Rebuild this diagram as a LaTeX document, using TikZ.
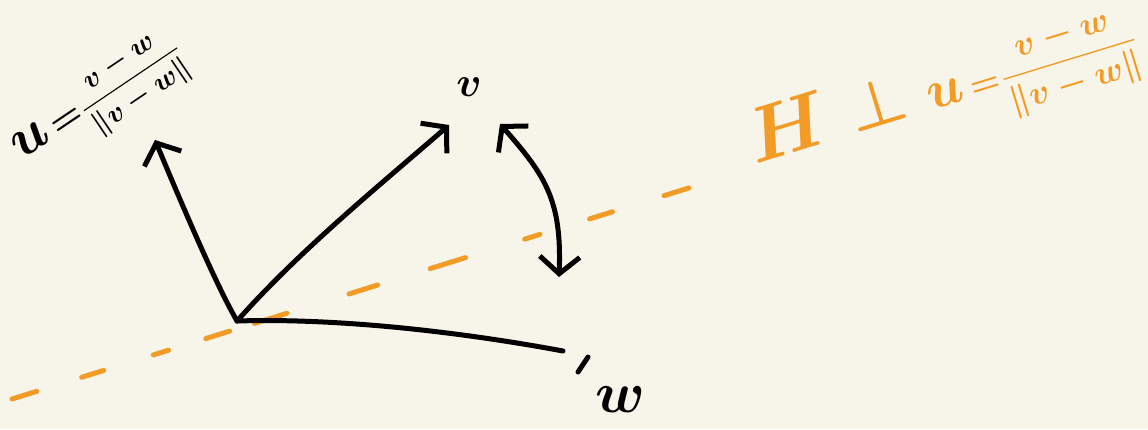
\documentclass[tikz,border=0pt]{standalone}
\usepackage{amsmath, amssymb}
\usepackage{xcolor}
\usepackage{graphicx}
\usepackage{tikz}
\usetikzlibrary{arrows.meta}

\definecolor{paper}{HTML}{F7F5EA}
\definecolor{marker}{HTML}{F29B26}

\begin{document}
\begin{tikzpicture}[x=1pt,y=-1pt,
    pen/.style={line width=5pt, line cap=round, line join=round},
    barb/.tip={Straight Barb[length=17pt,width=40pt,line width=5pt]},
    handtext/.style={font=\boldmath, transform shape}]
        % Paper
        \fill[paper] (0,0) rectangle (1148,429);
        \useasboundingbox (0,0) rectangle (1148,429);

        % Points
        \coordinate (O) at (237,321);
        \coordinate (utip) at (155,140);
        \coordinate (vtip) at (449,125);
        \coordinate (wend) at (563,351);
        \coordinate (arcA) at (500,124);
        \coordinate (arcB) at (559,277);
        \coordinate (dashA) at (12,399);
        \coordinate (dashB) at (708,182);

        % Hyperplane H (hand-spaced dashes)
        \draw[pen, marker, dash pattern=on 26pt off 47pt on 23pt off 52pt on 16pt off 39pt
            on 25pt off 26pt on 34pt off 65pt on 30pt off 55pt on 37pt off 62pt
            on 16pt off 52pt on 24pt off 54pt on 26pt off 22pt on 0.1pt off 40pt] (dashA) -- (dashB);

        % Vectors
        \draw[pen, -{barb}] (O) .. controls (225,300) and (205,260) .. (utip);
        \draw[pen, -{barb}] (O) .. controls (300,250) and (380,185) .. (vtip);
        \draw[pen] (O) .. controls (330,318) and (450,330) .. (wend);

        % Reflection
        \draw[pen, {barb}-{barb}] (arcA) .. controls (545,175) and (562,200) .. (arcB);

        % Labels
        \node[handtext, scale=4.2] (vlab) at (469,87) {$v$};
        \draw[pen] (588,357) -- (578,372);
        \node[handtext, scale=5.8] (wlab) at (620,400) {$w$};
        \node[handtext, scale=2.8, rotate=34] (ulab) at (100,102)
            {$\scalebox{2}{$u$}\,\scalebox{1.3}{$=$}\dfrac{v-w}{\|v-w\|}$};
        \node[handtext, marker, scale=3.4, rotate=17] (Hlab) at (945,96)
            {$\scalebox{2.3}{$H$}\;\;\scalebox{1.9}{$\perp$}\;\;\scalebox{1.6}{$u$}\,{=}\dfrac{v-w}{\|v-w\|}$};
    \end{tikzpicture}
\end{document}
